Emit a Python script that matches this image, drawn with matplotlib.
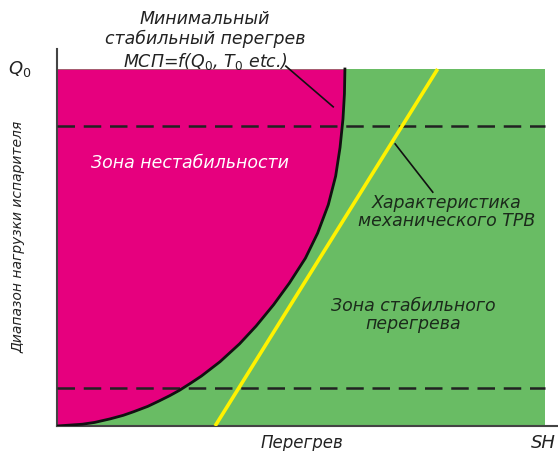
import matplotlib
matplotlib.use("Agg")
import matplotlib.pyplot as plt

plt.rcParams["mathtext.fontset"] = "dejavusans"

# ---- data ----
# boundary of minimal stable superheat (MSP): superheat vs evaporator load
msp_x = [0.00, 0.52, 0.77, 1.09, 1.36, 1.57, 1.86, 2.09, 2.31, 2.51, 2.74, 2.96, 3.34, 3.74,
         4.08, 4.44, 4.76, 5.09, 5.34, 5.56, 5.71, 5.80, 5.86, 5.89, 5.90]
msp_y = [0.00, 0.05, 0.10, 0.20, 0.30, 0.40, 0.55, 0.70, 0.85, 1.00, 1.20, 1.40, 1.80, 2.30,
         2.80, 3.40, 4.00, 4.70, 5.40, 6.20, 7.00, 7.80, 8.60, 9.30, 10.00]
# mechanical TRV characteristic (straight line)
trv_x = [3.24, 7.80]
trv_y = [0.0, 10.0]
# load range limits (dashed)
load_levels = [8.40, 1.06]
x_max = 10.0
y_max = 10.0

PINK = "#E6007E"
GREEN = "#69BC64"
YELLOW = "#FFF200"
DARK = "#1b2a1b"

W, H = 558, 452
fig = plt.figure(figsize=(W / 100, H / 100), dpi=100)
fig.patch.set_facecolor("white")

def fx(px):
    return px / W

def fy(py):
    return 1 - py / H

ax = fig.add_axes([fx(57), fy(427), fx(557) - fx(57), fy(50) - fy(427)])
ax.set_xlim(0, 500 / 48.8)
ax.set_ylim(0, 377 / 35.7)
ax.set_facecolor("none")
for s in ["top", "right"]:
    ax.spines[s].set_visible(False)
for s in ["left", "bottom"]:
    ax.spines[s].set_color("#444444")
    ax.spines[s].set_linewidth(1.5)
ax.set_xticks([])
ax.set_yticks([])

# zones
ax.fill_between([0, x_max], 0, y_max, color=GREEN, zorder=1, linewidth=0)
ax.fill_betweenx(msp_y, 0, msp_x, color=PINK, zorder=2, linewidth=0)
ax.plot(msp_x, msp_y, color="#111111", lw=2.0, zorder=4, solid_joinstyle="round")

# dashed load levels
for lv in load_levels:
    ax.plot([0, x_max], [lv, lv], color="#222222", lw=1.8, dashes=(7, 3.5), zorder=3)

# TRV line
ax.plot(trv_x, trv_y, color=YELLOW, lw=2.6, zorder=5, solid_capstyle="butt")

# leader lines
ax.plot([4.69, 5.66], [10.08, 8.94], color="#111111", lw=1.2, zorder=6, clip_on=False)
ax.plot([6.93, 7.70], [7.90, 6.55], color="#111111", lw=1.2, zorder=6)

font = dict(family="DejaVu Sans", style="italic")

ax.text((190 - 57) / 48.8, (427 - 163) / 35.7, "Зона нестабильности",
        color="white", fontsize=12.5, ha="center", va="center", zorder=7, **font)
ax.text((447 - 57) / 48.8, (427 - 212) / 35.7, "Характеристика\nмеханического ТРВ",
        color=DARK, fontsize=12.5, ha="center", va="center", linespacing=1.0, zorder=7, **font)
ax.text((413 - 57) / 48.8, (427 - 315) / 35.7, "Зона стабильного\nперегрева",
        color=DARK, fontsize=12.5, ha="center", va="center", linespacing=1.0, zorder=7, **font)

fig.text(fx(205), fy(41), "Минимальный\nстабильный перегрев\nМСП=f(Q$_0$, T$_0$ etc.)",
         color="#222222", fontsize=12.5, ha="center", va="center", linespacing=1.15, **font)
fig.text(fx(20), fy(69), "Q$_0$", color="#222222", fontsize=13, ha="center", va="center", **font)
fig.text(fx(19), fy(237), "Диапазон нагрузки испарителя", color="#222222", fontsize=10,
         rotation=90, ha="center", va="center", **font)
fig.text(fx(302), fy(443), "Перегрев", color="#222222", fontsize=12, ha="center", va="center", **font)
fig.text(fx(556), fy(443), "SH", color="#222222", fontsize=13, ha="right", va="center", **font)

fig.savefig("out.png", dpi=100)
